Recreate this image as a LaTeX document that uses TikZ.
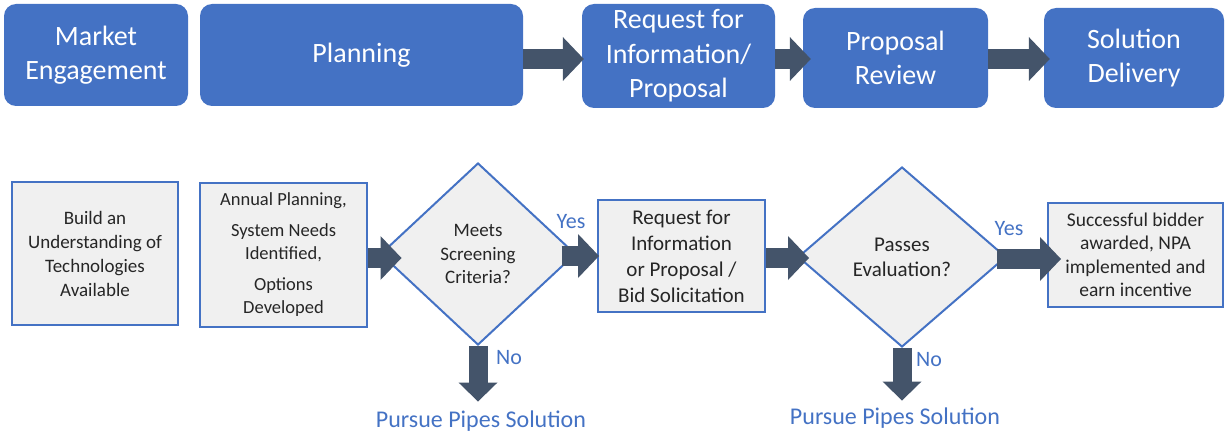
\documentclass[tikz,border=0pt]{standalone}
\usepackage{fontspec}
\setmainfont{Carlito}
\usetikzlibrary{shapes.geometric, arrows.meta, positioning}

\definecolor{phaseblue}{HTML}{4472C4}
\definecolor{arrowslate}{HTML}{44546A}
\definecolor{boxgray}{HTML}{F0F0F0}
\definecolor{boxtext}{HTML}{262626}

\tikzset{
  phase/.style = {
    rectangle, rounded corners = 12pt, fill = phaseblue, text = white,
    align = center, inner sep = 0pt, font = \fontsize{28}{34.5}\selectfont
  },
  stepbox/.style = {
    rectangle, draw = phaseblue, line width = 2pt, fill = boxgray,
    text = boxtext, align = center, inner sep = 0pt
  },
  decision/.style = {
    diamond, draw = phaseblue, line width = 2pt, fill = boxgray,
    text = boxtext, align = center, inner sep = 0pt
  },
  fatarrow/.style = {
    draw = arrowslate, line width = 20pt,
    -{Triangle[length = 21pt, width = 44pt, line width = 0pt]}
  },
  droparrow/.style = {
    draw = arrowslate, line width = 19pt,
    -{Triangle[length = 19pt, width = 39pt, line width = 0pt]}
  },
  answer/.style = {text = phaseblue, inner sep = 0pt},
}

\begin{document}
\begin{tikzpicture}[x = 1pt, y = -1pt]
      \useasboundingbox (0, 0) rectangle (1225, 433);

      % phases along the top
      \node [phase, minimum width = 184pt, minimum height = 102pt]
        (market) at (96, 55) {Market\\Engagement};
      \node [phase, minimum width = 323pt, minimum height = 102pt]
        (planning) at (361.5, 55) {Planning};
      \node [phase, minimum width = 193pt, minimum height = 104pt]
        (rfi) at (678.5, 56) {Request for\\Information/\\Proposal};
      \node [phase, minimum width = 185pt, minimum height = 100pt]
        (review) at (895.5, 58) {Proposal\\Review};
      \node [phase, minimum width = 180pt, minimum height = 100pt]
        (delivery) at (1134, 58) {Solution\\Delivery};

      \draw [fatarrow] ([yshift = -4pt] planning.east)
        -- ([yshift = -4pt, xshift = 2pt] planning.east -| rfi.west);
      \draw [fatarrow] ([yshift = -3pt] rfi.east)
        -- ([yshift = -3pt, xshift = 8pt] rfi.east -| review.west);
      \draw [fatarrow] ([yshift = -1pt] review.east)
        -- ([yshift = -1pt, xshift = 6pt] review.east -| delivery.west);

      % process steps
      \node [stepbox, minimum width = 166pt, minimum height = 143pt,
        font = \fontsize{19}{24}\selectfont]
        (build) at (95, 253.5) {Build an\\Understanding of\\Technologies\\Available};
      \node [stepbox, minimum width = 167pt, minimum height = 144pt,
        font = \fontsize{18.5}{23}\selectfont]
        (annual) at (283.5, 255) {Annual Planning,\\[8pt]System Needs\\Identified,\\[8pt]Options\\Developed};
      \node [decision, minimum width = 195pt, minimum height = 182pt,
        font = \fontsize{19}{23.5}\selectfont]
        (screen) at (478, 254) {Meets\\Screening\\Criteria?};
      \node [stepbox, minimum width = 167pt, minimum height = 112pt,
        font = \fontsize{21}{26}\selectfont]
        (rfp) at (681.5, 256) {Request for\\Information\\or Proposal /\\Bid Solicitation};
      \node [decision, minimum width = 208pt, minimum height = 180pt,
        font = \fontsize{21}{25}\selectfont]
        (evaluate) at (902, 257) {Passes\\Evaluation?};
      \node [stepbox, minimum width = 175pt, minimum height = 104pt,
        font = \fontsize{19.5}{23.5}\selectfont]
        (award) at (1135.5, 255) {Successful bidder\\awarded, NPA\\implemented and\\earn incentive};

      % fallback outcomes
      \node [answer, font = \fontsize{24}{28}\selectfont]
        (pipes1) at (481, 421) {Pursue Pipes Solution};
      \node [answer, font = \fontsize{24}{28}\selectfont]
        (pipes2) at (895, 418) {Pursue Pipes Solution};

      \draw [fatarrow] ([yshift = -3pt] annual.east)
        -- ([yshift = -3pt, xshift = 22pt] annual.east -| screen.west);
      \draw [fatarrow] ([xshift = -15pt, yshift = -2pt] screen.east)
        -- ([yshift = -2pt, xshift = 2pt] screen.east -| rfp.west);
      \draw [fatarrow] ([yshift = -2pt] rfp.east)
        -- ([yshift = -2pt, xshift = 12pt] rfp.east -| evaluate.west);
      \draw [fatarrow] ([xshift = -10pt, yshift = -2pt] evaluate.east)
        -- ([yshift = -2pt, xshift = 14pt] evaluate.east -| award.west);

      \draw [droparrow] (screen.south)
        -- ([yshift = 9pt] screen.south |- pipes1.north);
      \draw [droparrow] (evaluate.south)
        -- ([yshift = 7pt] evaluate.south |- pipes2.north);

      % branch labels
      \node [answer, font = \fontsize{22}{26}\selectfont] (yes1) at (571, 222) {Yes};
      \node [answer, font = \fontsize{22}{26}\selectfont] (no1) at (509, 358) {No};
      \node [answer, font = \fontsize{22}{26}\selectfont] (yes2) at (1009, 229) {Yes};
      \node [answer, font = \fontsize{22}{26}\selectfont] (no2) at (929, 360) {No};
\end{tikzpicture}
\end{document}
